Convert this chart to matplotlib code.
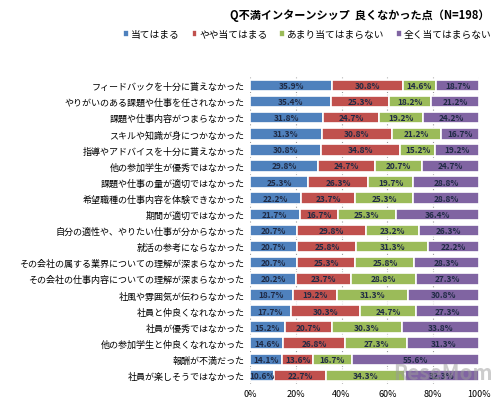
import matplotlib.pyplot as plt
import numpy as np

plt.rcParams['font.family'] = ['Noto Sans CJK JP', 'DejaVu Sans']

labels = [
    "フィードバックを十分に貰えなかった",
    "やりがいのある課題や仕事を任されなかった",
    "課題や仕事内容がつまらなかった",
    "スキルや知識が身につかなかった",
    "指導やアドバイスを十分に貰えなかった",
    "他の参加学生が優秀ではなかった",
    "課題や仕事の量が適切ではなかった",
    "希望職種の仕事内容を体験できなかった",
    "期間が適切ではなかった",
    "自分の適性や、やりたい仕事が分からなかった",
    "就活の参考にならなかった",
    "その会社の属する業界についての理解が深まらなかった",
    "その会社の仕事内容についての理解が深まらなかった",
    "社風や雰囲気が伝わらなかった",
    "社員と仲良くなれなかった",
    "社員が優秀ではなかった",
    "他の参加学生と仲良くなれなかった",
    "報酬が不満だった",
    "社員が楽しそうではなかった",
]

atehamaru = [35.9, 35.4, 31.8, 31.3, 30.8, 29.8, 25.3, 22.2, 21.7, 20.7,
             20.7, 20.7, 20.2, 18.7, 17.7, 15.2, 14.6, 14.1, 10.6]
yaya = [30.8, 25.3, 24.7, 30.8, 34.8, 24.7, 26.3, 23.7, 16.7, 29.8,
        25.8, 25.3, 23.7, 19.2, 30.3, 20.7, 26.8, 13.6, 22.7]
amari = [14.6, 18.2, 19.2, 21.2, 15.2, 20.7, 19.7, 25.3, 25.3, 23.2,
         31.3, 25.8, 28.8, 31.3, 24.7, 30.3, 27.3, 16.7, 34.3]
mattaku = [18.7, 21.2, 24.2, 16.7, 19.2, 24.7, 28.8, 28.8, 36.4, 26.3,
           22.2, 28.3, 27.3, 30.8, 27.3, 33.8, 31.3, 55.6, 32.3]

series_names = ["当てはまる", "やや当てはまる", "あまり当てはまらない", "全く当てはまらない"]
colors = ["#4F81BD", "#C0504D", "#9BBB59", "#8064A2"]

fig = plt.figure(figsize=(5, 4.1), dpi=100)
ax = fig.add_axes([0.5, 0.062, 0.458, 0.747])

y = np.arange(len(labels))
left = np.zeros(len(labels))
for name, vals, c in zip(series_names, [atehamaru, yaya, amari, mattaku], colors):
    vals = np.array(vals)
    ax.barh(y, vals, left=left, height=0.72, color=c, edgecolor="white",
            linewidth=1.2, label=name)
    for yi, l, v in zip(y, left, vals):
        ax.text(l + v / 2, yi, f"{v:.1f}%", ha="center", va="center",
                fontsize=6, fontweight="bold", color="#1F2A44")
    left += vals

ax.set_ylim(len(labels) - 0.5, -0.5)
ax.set_xlim(0, 100)
ax.set_yticks(y)
ax.set_yticklabels(labels, fontsize=6.5)
ax.set_xticks([0, 20, 40, 60, 80, 100])
ax.set_xticklabels(["0%", "20%", "40%", "60%", "80%", "100%"], fontsize=6.5)
ax.tick_params(length=0, pad=4)
ax.xaxis.grid(True, linestyle=":", color="#999999", linewidth=0.8)
ax.set_axisbelow(True)
for s in ax.spines.values():
    s.set_visible(False)

fig.text(0.72, 0.962, "Q不満インターンシップ  良くなかった点（N=198）",
         ha="center", va="center", fontsize=8, fontweight="bold")
fig.legend(loc="center", bbox_to_anchor=(0.615, 0.915), ncol=4, frameon=False,
           fontsize=7, handlelength=0.6, handleheight=0.6, handletextpad=0.2,
           columnspacing=1.2)

# site watermark, bottom right as in the reference
fig.text(0.885, 0.09, "ReseMom", ha="center", va="center", fontsize=15,
         fontweight="bold", color="#9a9a9a", alpha=0.5)

fig.savefig("out.png", dpi=100)
